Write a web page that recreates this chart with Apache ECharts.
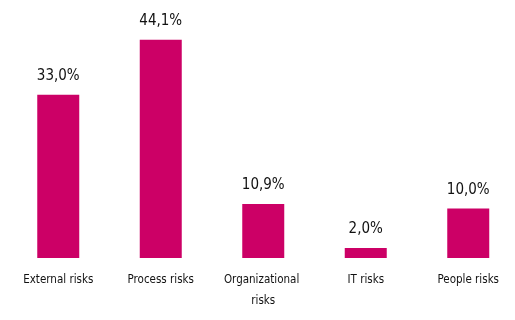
<!DOCTYPE html>
<html>
<head>
<meta charset="utf-8">
<script src="https://cdn.jsdelivr.net/npm/echarts@6/dist/echarts.min.js"></script>
<style>
  html, body { margin: 0; padding: 0; background: #fff; }
  #chart { width: 515px; height: 320px; }
</style>
</head>
<body>
<div id="chart"></div>
<script>
const categories = ['External risks', 'Process risks', 'Organizational risks', 'IT risks', 'People risks'];
const shares = [33.0, 44.1, 10.9, 2.0, 10.0];

const barColor = '#cc0066';
const fontFamily = '"DejaVu Sans Condensed", "DejaVu Sans", sans-serif';

function formatShare(v) {
  return v.toFixed(1).replace('.', ',') + '%';
}

const chart = echarts.init(document.getElementById('chart'), null, { renderer: 'canvas' });
chart.setOption({
  animation: false,
  grid: {
    left: 7,
    width: 512.5,
    top: 10.5,
    bottom: 62,
    outerBoundsMode: 'none'
  },
  xAxis: {
    type: 'category',
    data: categories,
    axisLine: { show: false },
    axisTick: { show: false },
    axisLabel: {
      color: '#111',
      fontFamily: fontFamily,
      fontSize: 11.5,
      margin: 12,
      lineHeight: 21,
      width: 95,
      overflow: 'break',
      interval: 0
    }
  },
  yAxis: {
    type: 'value',
    min: 0,
    max: 50,
    show: false,
    splitLine: { show: false }
  },
  series: [{
    type: 'bar',
    data: shares,
    barWidth: 42,
    itemStyle: { color: barColor },
    label: {
      show: true,
      position: 'top',
      distance: 11,
      color: '#111',
      fontFamily: fontFamily,
      fontSize: 15,
      formatter: p => formatShare(p.value)
    }
  }]
});
</script>
</body>
</html>
